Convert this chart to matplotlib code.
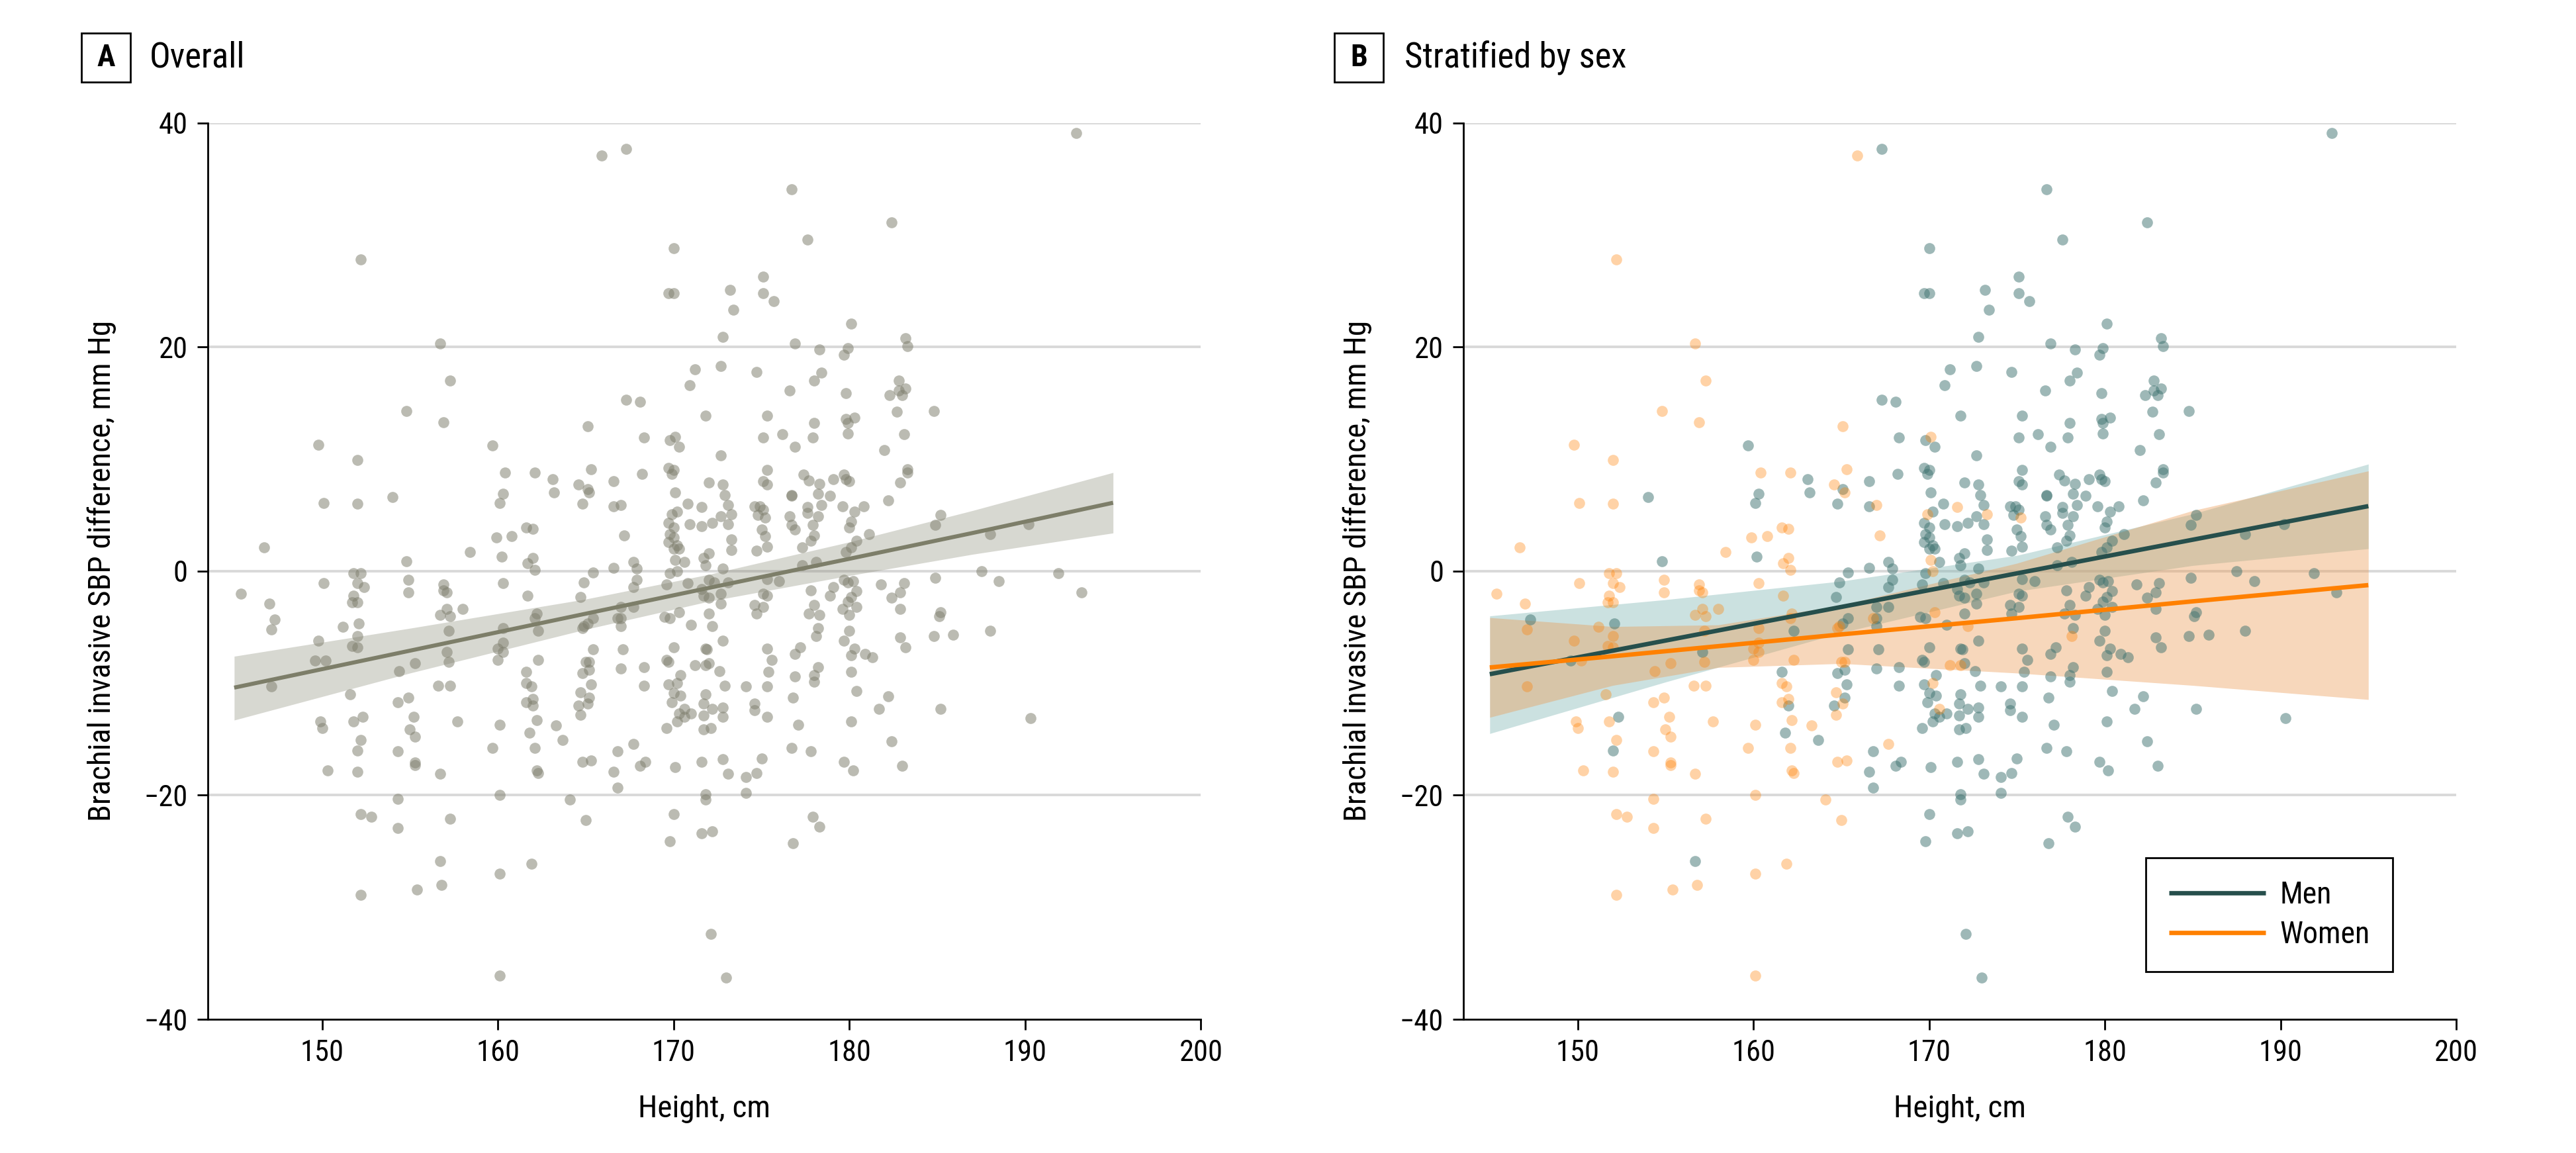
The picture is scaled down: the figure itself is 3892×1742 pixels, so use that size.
import matplotlib
matplotlib.use("Agg")
import matplotlib.pyplot as plt
from matplotlib import font_manager
from matplotlib.patches import Rectangle
import numpy as np

# ---------------- data ----------------
women_height = [
    152.2, 156.7, 157.3, 154.8, 156.9, 149.8, 152.0, 160.4, 162.1, 150.1, 152.0, 161.6, 162.0, 159.9,
    160.8, 146.7, 158.4, 162.0, 161.7, 162.1, 151.8, 152.2,
    145.4, 147.0, 150.1, 152.0, 152.4, 154.9, 154.9, 156.9, 156.9, 157.1, 160.3, 151.8, 151.7, 152.0,
    161.7, 157.1, 158.0, 156.7, 157.3, 162.2, 162.1, 147.1, 151.2, 160.3, 157.2, 149.8, 152.0, 151.7,
    152.0, 160.0, 160.3, 160.3, 150.2, 160.0, 162.3, 155.3, 157.2, 154.4, 147.1, 156.6, 157.3, 161.6,
    161.9, 151.6, 154.9, 154.3, 162.0, 161.6, 155.2, 149.9, 150.0, 151.8, 157.7, 160.1, 162.2, 155.0,
    155.3, 152.2, 154.3, 159.7, 162.1, 155.3, 155.3, 150.3, 152.0, 156.7, 162.2, 162.3, 160.1, 154.3,
    152.2, 152.8, 157.3, 154.3, 161.9, 160.1, 156.8, 155.4, 152.2, 160.1,
    165.9, 165.1, 170.1, 165.3, 164.6, 165.2, 167.0, 175.2, 171.6, 173.3, 169.9, 170.1, 170.2, 167.2,
    164.9, 164.8, 166.8, 170.3, 172.2, 165.0, 165.2, 164.7, 165.1, 164.7, 163.3, 164.8, 165.3, 164.1,
    165.0, 171.2, 171.8, 170.2, 170.6, 167.7,
    178.1,
]
women_diff = [
    27.8, 20.3, 17.0, 14.3, 13.3, 11.3, 9.9, 8.8, 8.8, 6.1, 6.0, 3.9, 3.8, 3.0,
    3.1, 2.1, 1.7, 1.2, 0.7, 0.1, -0.2, -0.2,
    -2.0, -2.9, -1.1, -1.1, -1.4, -0.8, -1.9, -1.2, -1.7, -1.9, -1.1, -2.2, -2.8, -2.8,
    -2.2, -3.4, -3.4, -3.9, -4.0, -3.8, -4.2, -5.2, -5.0, -5.1, -5.3, -6.2, -5.8, -6.7,
    -6.8, -6.9, -6.4, -7.2, -8.0, -7.9, -7.9, -8.2, -8.1, -8.9, -10.3, -10.2, -10.2, -10.0,
    -10.3, -11.0, -11.3, -11.7, -11.4, -11.7, -13.0, -13.4, -14.0, -13.4, -13.4, -13.7, -13.3, -14.1,
    -14.8, -15.1, -16.1, -15.8, -15.8, -17.1, -17.3, -17.8, -17.9, -18.1, -17.8, -18.0, -20.0, -20.3,
    -21.7, -21.9, -22.1, -22.9, -26.1, -27.0, -28.0, -28.4, -28.9, -36.1,
    37.1, 12.9, 12.0, 9.1, 7.7, 7.0, 5.9, 4.8, 5.7, 5.1, 5.1, 1.0, 0.0, 3.2,
    -4.9, -5.1, -4.2, -3.7, -4.9, -8.1, -8.1, -10.8, -11.8, -12.8, -13.8, -17.0, -16.9, -20.4,
    -22.2, -8.4, -8.4, -10.0, -12.3, -15.4,
    -5.8,
]

men_height = [
    159.7, 154.0, 160.3, 160.1, 154.8, 160.2,
    147.3, 152.1, 162.3, 157.1, 149.6, 161.6, 162.0, 152.3, 161.8, 152.0, 156.7,
    167.3, 176.7, 170.0, 169.7, 170.0, 173.2, 175.1, 175.1, 175.7, 173.4, 172.8, 176.9, 171.2,
    172.7, 174.7, 170.9, 176.6, 167.3, 168.1, 171.8, 175.3, 168.3, 169.8, 170.3, 172.7, 175.1,
    176.2, 176.9, 163.1, 163.2, 165.1, 164.8, 166.6, 166.6, 168.2, 169.7, 170.0, 169.9, 170.1,
    172.0, 172.8, 172.9, 173.1, 175.1, 175.3, 175.3, 176.7, 176.7, 174.6, 174.9, 175.1, 174.8,
    176.6, 176.7, 176.9, 175.0, 175.2, 175.3, 174.7, 170.8, 172.7, 173.1, 172.2, 171.6, 170.9,
    170.2, 169.7, 170.0, 169.8, 170.0, 169.7, 170.2, 170.0, 170.3, 173.3, 173.3, 170.6, 171.7,
    172.0, 171.8, 172.8, 169.8, 167.7, 167.9, 166.6, 165.4,
    164.9, 164.7, 167.7, 167.9, 169.6, 170.8, 171.6, 172.0, 172.3, 173.1, 171.7, 172.0, 172.7,
    172.7, 175.3, 176.0, 175.1, 175.3, 174.6, 175.1, 174.7, 167.0, 167.7, 167.0, 165.4, 165.1,
    167.0, 169.5, 169.8, 171.0, 172.0, 172.8, 170.0, 169.6, 169.7, 165.4, 167.1, 164.8, 165.2,
    165.3, 165.2, 164.6, 163.7, 167.0, 168.3, 168.3, 171.8, 171.9, 172.0, 172.6, 175.3, 175.6,
    175.4, 176.9, 177.2, 176.9, 170.4, 169.7, 170.0, 170.4, 169.9, 172.9, 174.1, 175.3, 171.8,
    171.7, 172.2, 172.8, 170.3, 170.6, 171.0, 171.7, 172.8, 170.2, 169.6, 171.7, 172.1, 174.6,
    174.6, 175.3, 176.8, 177.1, 166.8, 166.6, 166.8, 168.1, 168.4, 170.1, 171.6, 172.8, 173.1,
    175.0, 174.7, 174.1, 174.1, 176.7, 171.8, 171.8, 170.0, 169.8, 171.6, 172.2, 176.8, 172.1,
    173.0,
    192.9, 182.4, 177.6, 180.1, 178.3, 179.9, 179.7, 183.2, 183.3, 178.4, 178.0, 182.8, 179.8,
    182.3, 182.8, 183.2, 183.0, 184.8, 182.7, 178.0, 179.8, 180.3, 179.9, 179.9, 177.9, 183.1,
    182.0, 183.3, 183.3, 182.9, 182.2, 177.4, 177.7, 178.3, 179.1, 179.7, 179.8, 180.0, 178.2,
    178.9, 178.4, 177.6, 177.6, 178.2, 179.6, 180.3, 180.8, 180.1, 180.0, 177.9, 178.0, 177.8,
    177.3, 181.1, 180.4, 180.1, 179.8, 185.2, 184.9, 188.0, 190.2, 178.1, 177.3, 187.5, 191.9,
    184.9, 188.5, 179.7, 180.2, 179.9, 179.1, 177.8, 181.8, 183.1, 182.9, 182.4, 193.2, 178.9,
    180.4, 180.1, 179.9, 178.0, 177.7, 178.3, 179.6, 180.4, 180.0, 182.9, 185.2, 185.1, 178.2,
    180.0, 179.7, 182.9, 184.8, 185.9, 188.0, 180.3, 180.1, 180.9, 181.3, 183.2, 178.2, 178.0,
    178.0, 180.1, 180.4, 182.2, 181.7, 185.2, 190.3, 180.1, 177.8, 182.4, 179.7, 180.2, 183.0,
    177.9, 178.3,
]
men_diff = [
    11.2, 6.6, 6.9, 6.1, 0.9, 1.3,
    -4.3, -4.7, -5.3, -7.2, -8.0, -9.0, -12.0, -13.0, -14.4, -16.0, -25.9,
    37.7, 34.1, 28.8, 24.8, 24.8, 25.1, 26.3, 24.8, 24.1, 23.3, 20.9, 20.3, 18.0,
    18.3, 17.8, 16.6, 16.1, 15.3, 15.1, 13.9, 13.9, 11.9, 11.7, 11.1, 10.3, 11.9,
    12.2, 11.1, 8.2, 7.0, 7.3, 6.0, 8.0, 5.8, 8.7, 9.2, 9.0, 8.7, 7.0,
    7.9, 7.7, 6.8, 5.9, 8.0, 9.0, 7.7, 6.8, 6.7, 5.8, 5.8, 5.5, 5.0,
    4.9, 4.1, 3.7, 3.7, 3.1, 2.2, 1.8, 6.0, 4.9, 4.2, 4.3, 4.0, 4.2,
    5.3, 4.3, 3.9, 3.3, 3.0, 2.6, 2.3, 2.0, 2.0, 2.8, 1.9, 0.8, 1.2,
    1.6, 0.5, 0.2, -0.2, 0.8, 0.2, 0.3, -0.1,
    -1.0, -2.3, -1.4, -0.8, -1.2, -1.1, -1.6, -0.8, -1.0, -1.0, -2.2, -2.4, -2.0,
    -2.9, -0.7, -0.9, -2.0, -2.2, -3.0, -3.2, -3.8, -3.2, -3.2, -4.2, -4.2, -4.7,
    -4.9, -4.1, -4.2, -4.8, -3.8, -6.2, -6.8, -7.9, -8.1, -7.0, -7.0, -9.1, -8.8,
    -10.1, -11.3, -12.0, -15.1, -8.7, -8.6, -10.2, -6.9, -7.0, -8.2, -8.9, -6.9, -7.9,
    -9.0, -7.4, -6.8, -9.4, -9.3, -10.1, -10.9, -11.1, -11.7, -10.2, -10.3, -10.3, -11.0,
    -11.8, -12.3, -12.2, -12.7, -13.0, -12.7, -12.9, -13.0, -13.4, -14.0, -14.1, -14.0, -11.8,
    -12.4, -13.0, -11.3, -13.7, -16.1, -17.9, -19.3, -17.4, -17.0, -17.5, -17.0, -16.8, -18.1,
    -16.7, -18.0, -18.4, -19.8, -15.8, -19.9, -20.4, -21.7, -24.1, -23.4, -23.2, -24.3, -32.4,
    -36.3,
    39.1, 31.1, 29.6, 22.1, 19.8, 19.9, 19.3, 20.8, 20.1, 17.7, 17.0, 17.0, 15.9,
    15.7, 16.1, 16.3, 15.7, 14.3, 14.2, 13.2, 13.6, 13.7, 13.2, 12.3, 11.9, 12.2,
    10.8, 9.1, 8.8, 7.9, 6.3, 8.6, 8.1, 7.8, 8.2, 8.6, 8.2, 8.0, 6.9,
    6.7, 5.9, 5.7, 5.2, 4.9, 5.8, 5.3, 5.8, 4.4, 3.9, 4.1, 3.2, 2.7,
    2.1, 3.3, 2.7, 2.1, 1.7, 5.0, 4.1, 3.3, 4.2, 0.8, 0.5, 0.0, -0.2,
    -0.6, -0.9, -0.8, -0.9, -1.0, -1.4, -1.7, -1.2, -1.1, -1.9, -2.4, -1.9, -2.2,
    -1.8, -2.3, -2.7, -3.0, -3.8, -3.9, -3.4, -3.2, -3.9, -3.4, -3.7, -4.0, -5.1,
    -5.3, -6.2, -5.9, -5.8, -5.7, -5.3, -6.9, -7.5, -7.4, -7.7, -6.8, -8.6, -9.3,
    -9.9, -9.0, -10.7, -11.2, -12.3, -12.3, -13.1, -13.4, -16.1, -15.2, -17.0, -17.8, -17.4,
    -21.9, -22.8,
]

# fitted lines and 95% CI bands
fit_all_x = [145, 155, 165, 172, 180, 187, 195]
fit_all_y = [-10.4, -7.1, -3.8, -1.5, 1.1, 3.4, 6.1]
fit_all_lo = [-13.3, -9.1, -5.2, -2.7, -0.4, 1.5, 3.4]
fit_all_hi = [-7.6, -5.1, -2.5, -0.3, 2.6, 5.4, 8.8]

fit_men_x = [145, 155, 165, 175, 185, 195]
fit_men_y = [-9.2, -6.2, -3.2, -0.2, 2.8, 5.8]
fit_men_lo = [-14.5, -9.9, -5.5, -1.8, 0.5, 2.0]
fit_men_hi = [-4.0, -2.55, -0.9, 1.4, 5.1, 9.55]

fit_women_x = [145, 152, 158, 165, 175, 185, 195]
fit_women_y = [-8.6, -7.6, -6.7, -5.65, -4.2, -2.7, -1.25]
fit_women_lo = [-13.05, -10.2, -8.6, -8.25, -9.1, -10.2, -11.46]
fit_women_hi = [-4.15, -4.95, -4.8, -3.05, 0.7, 5.4, 8.94]

x_ticks = [150, 160, 170, 180, 190, 200]
y_ticks = [-40, -20, 0, 20, 40]
grid_levels = [-20, 0, 20, 40]

# ---------------- fonts ----------------
available = {f.name for f in font_manager.fontManager.ttflist}
family = "DejaVu Sans"
for cand in ["Liberation Sans Narrow", "Roboto Condensed", "Open Sans Condensed", "Roboto", "Liberation Sans"]:
    if cand in available:
        family = cand
        break
plt.rcParams["font.family"] = [family, "DejaVu Sans"]

# ---------------- figure ----------------
W, H = 3892, 1742
DPI = 200
fig = plt.figure(figsize=(W / DPI, H / DPI), dpi=DPI)

ax_bottom = 1 - 1540 / H
ax_height = (1540 - 185.7) / H
axA = fig.add_axes([314 / W, ax_bottom, 1500.5 / W, ax_height])
axB = fig.add_axes([2211 / W, ax_bottom, 1500 / W, ax_height])

tick_fs = 16
label_fs = 17
dot_s = 36

for ax in (axA, axB):
    ax.set_xlim(143.5, 200)
    ax.set_ylim(-40, 40)
    ax.set_xticks(x_ticks)
    ax.set_yticks(y_ticks)
    for s in ("top", "right"):
        ax.spines[s].set_visible(False)
    for s in ("left", "bottom"):
        ax.spines[s].set_linewidth(1.0)
        ax.spines[s].set_color("black")
    ax.tick_params(direction="out", length=5.8, width=1.0, labelsize=tick_fs, pad=5, colors="black")
    for g in grid_levels:
        ax.axhline(g, color="#d9d9d9", lw=1.4, zorder=0)
    ax.set_xlabel("Height, cm", fontsize=label_fs, va="center")
    ax.xaxis.set_label_coords(0.5, -0.0997)
    ax.set_ylabel("Brachial invasive SBP difference, mm Hg", fontsize=label_fs, va="center")
    ax.yaxis.set_label_coords(-0.1066, 0.5)

# Panel A
all_h = np.array(women_height + men_height)
all_d = np.array(women_diff + men_diff)
axA.fill_between(fit_all_x, fit_all_lo, fit_all_hi, color="#7d7e69", alpha=0.3, lw=0, zorder=1)
axA.scatter(all_h, all_d, s=dot_s, color="#7f7f6e", alpha=0.53, lw=0, zorder=2)
axA.plot(fit_all_x, fit_all_y, color="#7d7e69", lw=2.2, zorder=3, solid_capstyle="butt")

# Panel B
axB.fill_between(fit_men_x, fit_men_lo, fit_men_hi, color="#7fb5b3", alpha=0.4, lw=0, zorder=1)
axB.fill_between(fit_women_x, fit_women_lo, fit_women_hi, color="#eb9b55", alpha=0.4, lw=0, zorder=1)
axB.scatter(men_height, men_diff, s=dot_s, color="#3f7370", alpha=0.5, lw=0, zorder=2)
axB.scatter(women_height, women_diff, s=dot_s, color="#ff8000", alpha=0.35, lw=0, zorder=2)
lm, = axB.plot(fit_men_x, fit_men_y, color="#264f4c", lw=2.4, zorder=3, solid_capstyle="butt")
lw_, = axB.plot(fit_women_x, fit_women_y, color="#ff8000", lw=2.4, zorder=3, solid_capstyle="butt")

leg = axB.legend([lm, lw_], ["Men", "Women"], loc="center",
                 bbox_to_anchor=(0.8117, 0.1167), fontsize=16.5, frameon=True, fancybox=False,
                 framealpha=1, edgecolor="black", handlelength=3.2, handletextpad=0.45,
                 borderpad=0.75, labelspacing=0.35, borderaxespad=0)
leg.get_frame().set_linewidth(1.0)
for h in leg.get_lines():
    h.set_linewidth(2.4)

# Panel labels
def panel_label(x0_px, letter, title, title_x_px):
    box_w = 74
    box = Rectangle((x0_px / W, 1 - 124 / H), box_w / W, box_w / H, transform=fig.transFigure,
                    fill=False, edgecolor="black", lw=1.0)
    fig.add_artist(box)
    fig.text((x0_px + box_w / 2) / W, 1 - 87.4 / H, letter, ha="center", va="center",
             fontsize=16.5, fontweight="bold")
    fig.text(title_x_px / W, 1 - 87.4 / H, title, ha="left", va="center", fontsize=19)

panel_label(122.7, "A", "Overall", 226)
panel_label(2016, "B", "Stratified by sex", 2122)

fig.savefig("out.png", dpi=DPI)
